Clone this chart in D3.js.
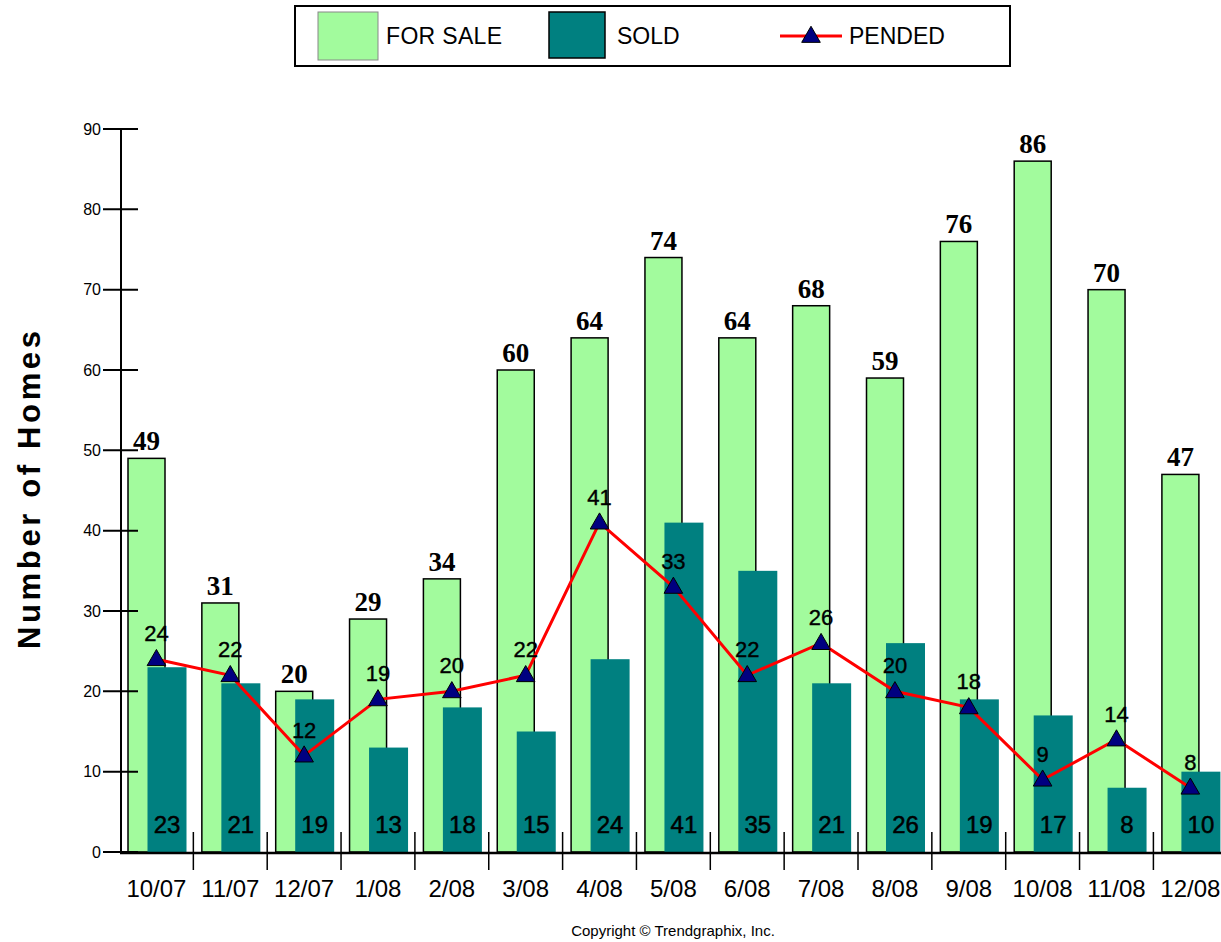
<!DOCTYPE html>
<html>
<head>
<meta charset="utf-8">
<script src="https://cdn.jsdelivr.net/npm/d3@7"></script>
<style>
  html, body { margin: 0; padding: 0; background: #fff; }
  svg { display: block; font-family: "Liberation Sans", Arial, sans-serif; }
</style>
</head>
<body>
<svg id="chart" width="1221" height="942"></svg>
<script>
// Monthly home counts
const months   = ["10/07","11/07","12/07","1/08","2/08","3/08","4/08","5/08","6/08","7/08","8/08","9/08","10/08","11/08","12/08"];
const forSale  = [49, 31, 20, 29, 34, 60, 64, 74, 64, 68, 59, 76, 86, 70, 47];
const sold     = [23, 21, 19, 13, 18, 15, 24, 41, 35, 21, 26, 19, 17, 8, 10];
const pended   = [24, 22, 12, 19, 20, 22, 41, 33, 22, 26, 20, 18, 9, 14, 8];
const yTicks   = [0, 10, 20, 30, 40, 50, 60, 70, 80, 90];

const GREEN = "#a2fb9d", TEAL = "#008080", RED = "#ff0000", NAVY = "#000080";

const svg = d3.select("#chart");

const x = d3.scaleBand().domain(months).range([119.5, 119.5 + 15 * 73.85]).padding(0);
const y = d3.scaleLinear().domain([0, 90]).range([852, 129]);
const bw = x.bandwidth();

// FOR SALE bars
svg.append("g").selectAll("rect").data(months).join("rect")
  .attr("x", d => x(d) + 8.5)
  .attr("width", 37)
  .attr("y", (d, i) => y(forSale[i]))
  .attr("height", (d, i) => y(0) - y(forSale[i]))
  .attr("fill", GREEN).attr("stroke", "#000").attr("stroke-width", 1.5);

// SOLD bars
svg.append("g").selectAll("rect").data(months).join("rect")
  .attr("x", d => x(d) + 28)
  .attr("width", 39)
  .attr("y", (d, i) => y(sold[i]))
  .attr("height", (d, i) => y(0) - y(sold[i]))
  .attr("fill", TEAL);

// Y axis
const yAxis = svg.append("g").attr("transform", "translate(121,0)")
  .call(d3.axisLeft(y).tickValues(yTicks).tickSize(0).tickPadding(20));
yAxis.select(".domain").remove();
yAxis.selectAll("text").attr("font-size", 16).attr("fill", "#000");
svg.append("g").selectAll("line").data(yTicks).join("line")
  .attr("x1", 103).attr("x2", 138)
  .attr("y1", d => y(d)).attr("y2", d => y(d))
  .attr("stroke", "#000").attr("stroke-width", 2);
svg.append("line").attr("x1", 121).attr("x2", 121).attr("y1", y(90)).attr("y2", y(0) + 1)
  .attr("stroke", "#000").attr("stroke-width", 2);

// X axis
svg.append("line").attr("x1", 120).attr("x2", 1221).attr("y1", 853).attr("y2", 853)
  .attr("stroke", "#000").attr("stroke-width", 2.5);
const xAxis = svg.append("g").attr("transform", "translate(0,853)")
  .call(d3.axisBottom(x).tickSize(0).tickPadding(26));
xAxis.select(".domain").remove();
xAxis.selectAll("text").attr("font-size", 24).attr("fill", "#000")
  .attr("dy", 0).attr("y", 44);
svg.append("g").selectAll("line").data(months.slice(1)).join("line")
  .attr("x1", d => x(d)).attr("x2", d => x(d))
  .attr("y1", 832).attr("y2", 870)
  .attr("stroke", "#000").attr("stroke-width", 1.5);

// Value labels: FOR SALE above bars
svg.append("g").selectAll("text").data(months).join("text")
  .attr("x", d => x(d) + 8.5 + 18.5)
  .attr("y", (d, i) => y(forSale[i]) - 8)
  .attr("text-anchor", "middle").attr("font-size", 27).attr("font-weight", "bold")
  .attr("font-family", "'Liberation Serif', 'Times New Roman', serif")
  .text((d, i) => forSale[i]);

// Value labels: SOLD near the base
svg.append("g").selectAll("text").data(months).join("text")
  .attr("x", d => x(d) + 28 + 19.5)
  .attr("y", 833)
  .attr("text-anchor", "middle").attr("font-size", 24)
  .attr("stroke", "#000").attr("stroke-width", 0.5)
  .text((d, i) => sold[i]);

// PENDED line
const line = d3.line().x((v, i) => x(months[i]) + bw / 2).y(v => y(v));
svg.append("path").datum(pended).attr("d", line)
  .attr("fill", "none").attr("stroke", RED).attr("stroke-width", 3);

const tri = d3.symbol().type(d3.symbolTriangle).size(150);
svg.append("g").selectAll("path").data(pended).join("path")
  .attr("d", tri)
  .attr("transform", (v, i) => `translate(${x(months[i]) + bw / 2},${y(v) + 1})`)
  .attr("fill", NAVY).attr("stroke", "#000").attr("stroke-width", 1);

svg.append("g").selectAll("text").data(pended).join("text")
  .attr("x", (v, i) => x(months[i]) + bw / 2)
  .attr("y", v => y(v) - 18)
  .attr("text-anchor", "middle").attr("font-size", 22)
  .attr("stroke", "#000").attr("stroke-width", 0.4)
  .text(v => v);

// Y axis title
svg.append("text")
  .attr("transform", "translate(40,490) rotate(-90)")
  .attr("text-anchor", "middle").attr("font-size", 31).attr("font-weight", "bold")
  .attr("textLength", 318).attr("lengthAdjust", "spacing")
  .text("Number of Homes");

// Legend
const lg = svg.append("g");
lg.append("rect").attr("x", 295).attr("y", 6).attr("width", 715).attr("height", 60)
  .attr("fill", "#fff").attr("stroke", "#000").attr("stroke-width", 2);
lg.append("rect").attr("x", 318).attr("y", 12).attr("width", 60).attr("height", 48)
  .attr("fill", GREEN).attr("stroke", "#888").attr("stroke-width", 1);
lg.append("text").attr("x", 386).attr("y", 44).attr("font-size", 23)
  .attr("textLength", 116).text("FOR SALE");
lg.append("rect").attr("x", 549).attr("y", 12).attr("width", 56).attr("height", 46)
  .attr("fill", TEAL).attr("stroke", "#000").attr("stroke-width", 1.5);
lg.append("text").attr("x", 617).attr("y", 44).attr("font-size", 23).text("SOLD");
lg.append("line").attr("x1", 780).attr("x2", 842).attr("y1", 36).attr("y2", 36)
  .attr("stroke", RED).attr("stroke-width", 3);
lg.append("path").attr("d", tri).attr("transform", "translate(811,37)")
  .attr("fill", NAVY).attr("stroke", "#000").attr("stroke-width", 1);
lg.append("text").attr("x", 849).attr("y", 44).attr("font-size", 23).text("PENDED");

// Footer
svg.append("text").attr("x", 673).attr("y", 936).attr("text-anchor", "middle")
  .attr("font-size", 15).text("Copyright \u00A9 Trendgraphix, Inc.");
</script>
</body>
</html>
